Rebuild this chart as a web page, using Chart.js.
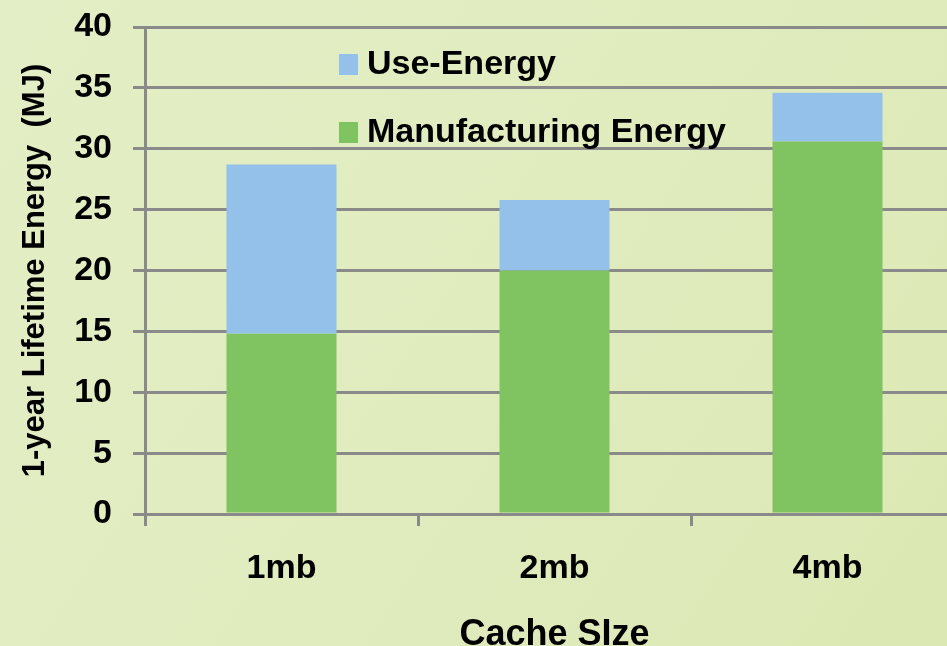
<!DOCTYPE html>
<html>
<head>
<meta charset="utf-8">
<script src="https://cdn.jsdelivr.net/npm/chart.js@4.4.1/dist/chart.umd.min.js"></script>
<style>
    html, body { margin: 0; padding: 0; overflow: hidden; background: #e2edc2; }
    #wrap { width: 964px; height: 646px; }
</style>
</head>
<body>
<div id="wrap"><canvas id="chart_energy"></canvas></div>
<script>
const categories = ['1mb', '2mb', '4mb'];
const manufacturingEnergy = [14.8, 20.0, 30.6];
const useEnergy = [13.9, 5.8, 4.0];

const GREEN = '#80c462';
const BLUE = '#93c1e9';
const GRID = '#8a8a8a';
const FONT = 'Liberation Sans, Arial, sans-serif';

// soft green paper background
const background = {
    id: 'background',
    beforeDraw(chart) {
        const ctx = chart.ctx;
        const g = ctx.createLinearGradient(0, 0, chart.width, chart.height);
        g.addColorStop(0, '#e3eec6');
        g.addColorStop(0.6, '#e0ebbd');
        g.addColorStop(1, '#dbe8b2');
        ctx.save();
        ctx.fillStyle = g;
        ctx.fillRect(0, 0, chart.width, chart.height);
        ctx.restore();
    }
};

// legend sits inside the plot, top item is the top of the stack
const innerLegend = {
    id: 'innerLegend',
    afterDraw(chart) {
        const ctx = chart.ctx;
        const items = chart.data.datasets.slice().reverse();
        ctx.save();
        ctx.font = 'bold 34px ' + FONT;
        ctx.textBaseline = 'middle';
        items.forEach((ds, i) => {
            const cy = 64 + i * 68;
            ctx.fillStyle = ds.backgroundColor;
            ctx.fillRect(339, cy - 10, 19, 21);
            ctx.fillStyle = '#000';
            ctx.fillText(ds.label, 367, cy + 1);
        });
        ctx.restore();
    }
};

new Chart(document.getElementById('chart_energy'), {
    type: 'bar',
    data: {
        labels: categories,
        datasets: [
            { label: 'Manufacturing Energy', data: manufacturingEnergy, backgroundColor: GREEN },
            { label: 'Use-Energy', data: useEnergy, backgroundColor: BLUE }
        ]
    },
    options: {
        responsive: true,
        maintainAspectRatio: false,
        animation: false,
        layout: { padding: { top: 27, right: 0, bottom: 0, left: 0 } },
        datasets: {
            bar: { categoryPercentage: 1, barPercentage: 0.403, borderWidth: 0 }
        },
        plugins: {
            legend: { display: false },
            tooltip: { enabled: false }
        },
        scales: {
            x: {
                stacked: true,
                afterFit: s => { s.height = 132; },
                grid: { drawOnChartArea: false, color: GRID, lineWidth: 3, tickLength: 12 },
                border: { color: GRID, width: 3 },
                ticks: { color: '#000', padding: 22, font: { family: FONT, size: 34, weight: 'bold' } },
                title: {
                    display: true,
                    text: 'Cache SIze',
                    color: '#000',
                    font: { family: FONT, size: 36, weight: 'bold', lineHeight: 1 },
                    padding: { top: 0, bottom: -7 }
                }
            },
            y: {
                stacked: true,
                min: 0,
                max: 40,
                afterFit: s => { s.width = 145; },
                grid: { color: GRID, lineWidth: 3, tickLength: 12 },
                border: { color: GRID, width: 3 },
                ticks: { stepSize: 5, color: '#000', padding: 21, font: { family: FONT, size: 34, weight: 'bold', lineHeight: 0.2 } },
                title: {
                    display: true,
                    text: '1-year Lifetime Energy  (MJ)',
                    color: '#000',
                    font: { family: FONT, size: 31, weight: 'bold', lineHeight: 1 },
                    padding: { top: 20, bottom: 0 }
                }
            }
        }
    },
    plugins: [background, innerLegend]
});
</script>
</body>
</html>
